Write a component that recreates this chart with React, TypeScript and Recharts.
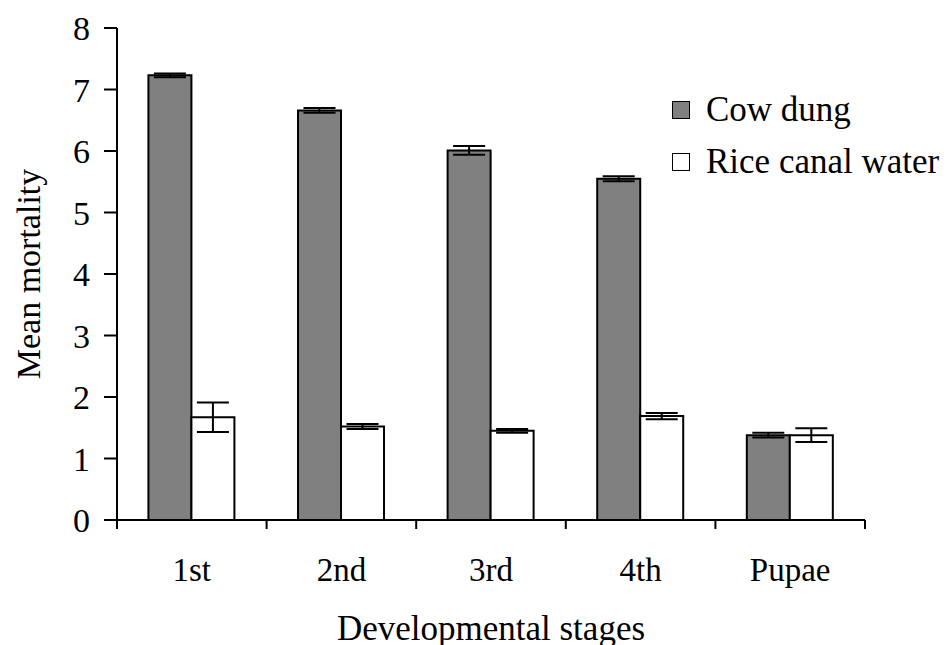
import { BarChart, Bar, XAxis, YAxis, ErrorBar } from 'recharts';

const stages = ['1st', '2nd', '3rd', '4th', 'Pupae'];
const cowDung = [7.23, 6.66, 6.01, 5.55, 1.38];
const cowDungErr = [0.03, 0.04, 0.07, 0.04, 0.04];
const riceCanal = [1.67, 1.52, 1.45, 1.69, 1.38];
const riceCanalErr = [0.24, 0.04, 0.03, 0.05, 0.11];
const yTicks = [0, 1, 2, 3, 4, 5, 6, 7, 8];

const FONT = '"Liberation Serif", "Times New Roman", serif';

const data = stages.map((stage, i) => ({
  stage,
  pos: i + 0.5,
  cow: cowDung[i],
  cowErr: cowDungErr[i],
  rice: riceCanal[i],
  riceErr: riceCanalErr[i],
}));

// bottom axis: tick marks on the category boundaries, names in the middle
const xTicks: number[] = [];
for (let i = 0; i <= stages.length; i++) {
  xTicks.push(i);
  if (i < stages.length) xTicks.push(i + 0.5);
}

const legendItems = [
  { name: 'Cow dung', fill: '#808080' },
  { name: 'Rice canal water', fill: '#ffffff' },
];

const StageTick = ({ x, y, payload }: any) => {
  const v = payload.value;
  if (Number.isInteger(v)) {
    return <line x1={x} x2={x} y1={y} y2={y + 9} stroke="#000" strokeWidth={2} />;
  }
  return (
    <text x={x} y={y + 61} textAnchor="middle" fill="#000" fontSize={33} fontFamily={FONT}>
      {stages[Math.floor(v)]}
    </text>
  );
};

// legend sits over the plot's right side, it takes no room from the chart
const LegendBox = () => (
  <div
    style={{
      position: 'absolute',
      left: 672,
      top: 84,
      fontFamily: FONT,
      fontSize: 35,
      color: '#000',
      lineHeight: '52px',
    }}
  >
    {legendItems.map(item => (
      <div key={item.name} style={{ display: 'flex', alignItems: 'center', whiteSpace: 'nowrap' }}>
        <span
          style={{
            display: 'inline-block',
            width: 16,
            height: 16,
            background: item.fill,
            border: '1.5px solid #000',
            marginRight: 16,
          }}
        />
        {item.name}
      </div>
    ))}
  </div>
);

export default function App() {
  return (
    <div style={{ position: 'absolute', left: 0, top: 0, width: 950, height: 645, background: '#fff' }}>
      <BarChart
        width={950}
        height={645}
        data={data}
        margin={{ top: 28, right: 85, left: 0, bottom: 0 }}
        barCategoryGap="21%"
        barGap={0}
      >
        <XAxis xAxisId="cat" dataKey="stage" hide />
        <XAxis
          xAxisId="a"
          dataKey="pos"
          type="number"
          scale="linear"
          domain={[0, stages.length]}
          allowDataOverflow
          ticks={xTicks}
          interval={0}
          height={125}
          tickSize={0}
          tickMargin={0}
          tickLine={false}
          tick={<StageTick />}
          axisLine={{ stroke: '#000', strokeWidth: 2 }}
          label={{
            value: 'Developmental stages',
            position: 'insideBottom',
            offset: 5,
            fill: '#000',
            fontSize: 35,
            fontFamily: FONT,
          }}
        />
        <YAxis
          width={117}
          domain={[0, 8]}
          ticks={yTicks}
          interval={0}
          tickSize={13}
          tickMargin={14}
          axisLine={{ stroke: '#000', strokeWidth: 2 }}
          tickLine={{ stroke: '#000', strokeWidth: 2 }}
          tick={{ fill: '#000', fontSize: 34, fontFamily: FONT }}
          label={{
            value: 'Mean mortality',
            angle: -90,
            position: 'insideLeft',
            offset: 28,
            style: { textAnchor: 'middle' },
            fill: '#000',
            fontSize: 34,
            fontFamily: FONT,
          }}
        />
        <Bar xAxisId="cat" dataKey="cow" name="Cow dung" fill="#808080" stroke="#000" strokeWidth={2} isAnimationActive={false}>
          <ErrorBar dataKey="cowErr" width={16} stroke="#000" strokeWidth={2} />
        </Bar>
        <Bar xAxisId="cat" dataKey="rice" name="Rice canal water" fill="#ffffff" stroke="#000" strokeWidth={2} isAnimationActive={false}>
          <ErrorBar dataKey="riceErr" width={16} stroke="#000" strokeWidth={2} />
        </Bar>
      </BarChart>
      <LegendBox />
    </div>
  );
}
